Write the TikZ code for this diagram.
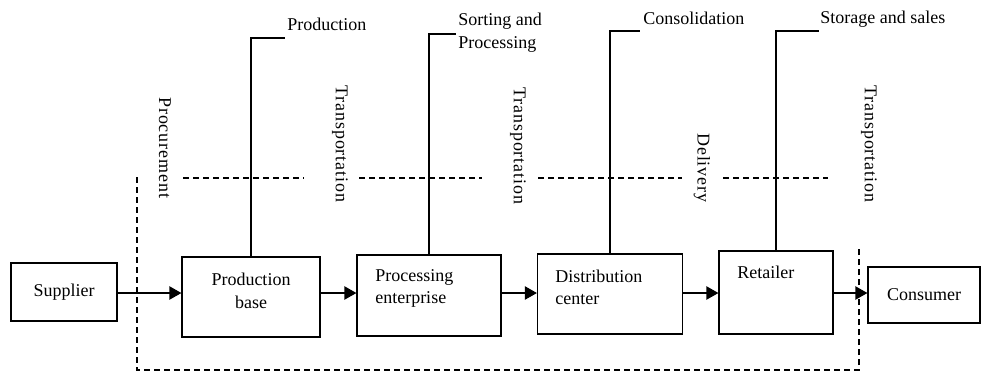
\documentclass[tikz,border=0pt]{standalone}
\usepackage{fontspec}
\setmainfont{Liberation Serif}
\usetikzlibrary{arrows.meta}
\begin{document}
\begin{tikzpicture}[x=0.75pt,y=-0.75pt,
  every node/.style={font=\fontsize{13.5}{17}\selectfont},
  box/.style={draw, line width=0.9pt, inner sep=0},
  flow/.style={line width=0.9pt, -{Triangle[length=9pt,width=10pt]}},
  lead/.style={line width=0.9pt},
  bound/.style={line width=0.9pt, dash pattern=on 4.5pt off 3pt},
  vlabel/.style={rotate=-90, anchor=west, inner sep=0,
    font=\fontsize{13.5}{17}\selectfont\addfontfeature{LetterSpace=5}},
  tag/.style={anchor=base west, inner sep=0, align=left},
  inner/.style={inner sep=0, align=left, anchor=west}
]
\useasboundingbox (0,0) rectangle (984,372);

% chain of stages
\node[box, minimum width=79.5pt, minimum height=43.5pt] (sup) at (64,292) {Supplier};
\node[box, minimum width=103.5pt, minimum height=60pt] (pb) at (251,297) {};
\node[box, minimum width=108pt, minimum height=60.75pt] (pe) at (429,295.5) {};
\node[box, minimum width=108.75pt, minimum height=60pt] (dc) at (610,294) {};
\node[box, minimum width=85.5pt, minimum height=62.25pt] (rt) at (776,292.5) {};
\node[box, minimum width=84pt, minimum height=42pt] (con) at (924,295) {Consumer};

% box captions
\node[inner sep=0, align=center] (pbt) at (251,291) {Production\\base};
\node[inner] (pet) at (375,288.5) {Processing\\enterprise};
\node[inner] (dct) at (555,287.5) {Distribution\\center};
\node[inner] (rtt) at (737,272) {Retailer};

% flow arrows
\draw[flow] (sup.east |- 0,293) -- (pb.west |- 0,293);
\draw[flow] (pb.east |- 0,293) -- (pe.west |- 0,293);
\draw[flow] (pe.east |- 0,293) -- (dc.west |- 0,293);
\draw[flow] (dc.east |- 0,293) -- (rt.west |- 0,293);
\draw[flow] (rt.east |- 0,293) -- (con.west |- 0,293);

% dashed boundary of the chain
\draw[bound] (137,177) -- (137,370) -- (859,370) -- (859,248);

% dashed level line
\draw[bound] (183,178) -- (304,178);
\draw[bound] (359,178) -- (482,178);
\draw[bound] (538,178) -- (682,178);
\draw[bound] (723,178) -- (828,178);

% stage activity labels with leaders
\node[tag] (lp) at (287,30) {Production};
\node[tag] (ls) at (458,48) {Sorting and\\Processing};
\node[tag] (lc) at (643,24) {Consolidation};
\node[tag] (lr) at (820,23) {Storage and sales};
\coordinate (cp) at (285,38);
\coordinate (cs) at (456,34);
\coordinate (cc) at (640,31);
\coordinate (cr) at (819,31);
\draw[lead] (pb.north) |- (cp);
\draw[lead] (pe.north) |- (cs);
\draw[lead] (dc.north) |- (cc);
\draw[lead] (rt.north) |- (cr);

% logistics activities between stages
\node[vlabel] (v1) at (165,97) {Procurement};
\node[vlabel] (v2) at (340,85) {Transportation};
\node[vlabel] (v3) at (518,87) {Transportation};
\node[vlabel] (v4) at (702,133) {Delivery};
\node[vlabel] (v5) at (869,85) {Transportation};
\end{tikzpicture}
\end{document}
